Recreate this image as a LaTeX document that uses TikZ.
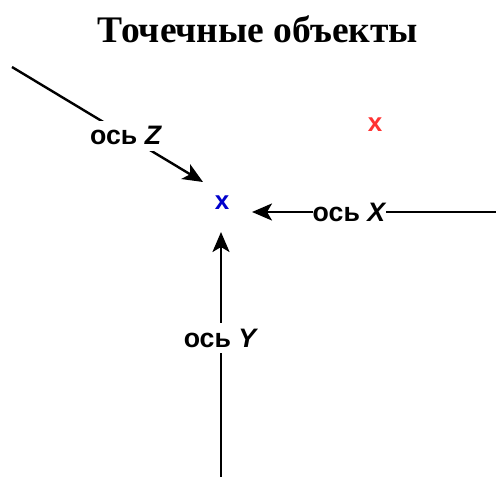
\documentclass[tikz,border=0pt]{standalone}
\usepackage{fontspec}
\setmainfont{Liberation Serif}
\newfontfamily\lblfont{Liberation Sans}
\usetikzlibrary{arrows.meta}
\definecolor{xblue}{HTML}{0000CC}
\definecolor{xred}{HTML}{FF3333}
\tikzset{
  axisline/.style={line width=2.4pt, -{Stealth[length=20pt,width=17pt,inset=5pt]}},
  axislbl/.style={font=\lblfont\bfseries\fontsize{26.7}{30}\selectfont, fill=white, inner xsep=0pt, inner ysep=0pt, minimum height=30pt},
  pointmark/.style={font=\lblfont\bfseries\fontsize{26}{30}\selectfont, inner sep=0pt},
  titlelbl/.style={font=\bfseries\fontsize{37.5}{42}\selectfont, inner sep=0pt}
}
\begin{document}
\begin{tikzpicture}[x=1pt,y=-1pt]
\useasboundingbox (0,0) rectangle (496,477);
\node[titlelbl] (title) at (258,29) {Точечные объекты};
\node[pointmark, text=xblue] (bx) at (222,203) {x};
\node[pointmark, text=xred] (rx) at (375,125) {x};
\coordinate (zs) at (12,67);
\coordinate (zt) at (203,182);
\coordinate (xs) at (496,212);
\coordinate (xt) at (252,212);
\coordinate (ys) at (221,477);
\coordinate (yt) at (221,232);
\draw[axisline] (zs) -- node[axislbl, pos=0.597]{ось \textit{Z}} (zt);
\draw[axisline] (xs) -- node[axislbl, pos=0.60]{ось \textit{X}} (xt);
\draw[axisline] (ys) -- node[axislbl, pos=0.567]{ось \textit{Y}} (yt);
\end{tikzpicture}
\end{document}
